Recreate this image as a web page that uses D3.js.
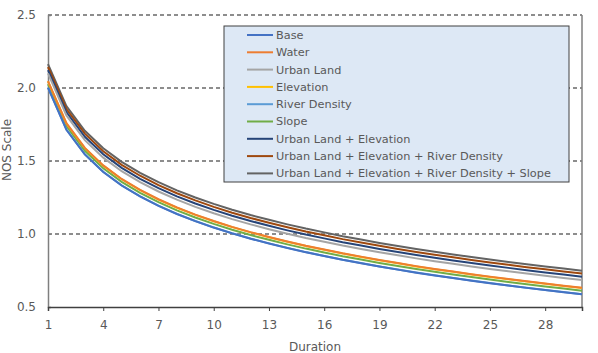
<html>
<script src='https://d3js.org/d3.v7.min.js'></script>
<body style="margin:0; background:#fff;">
<svg width=598 height=353></svg>
<script>

var durations = d3.range(1, 31);
var xTicks = [1, 4, 7, 10, 13, 16, 19, 22, 25, 28];
var yTicks = [0.5, 1.0, 1.5, 2.0, 2.5];

var seriesNames = ["Base", "Water", "Urban Land", "Elevation", "River Density", "Slope",
    "Urban Land + Elevation", "Urban Land + Elevation + River Density",
    "Urban Land + Elevation + River Density + Slope"];

var colors = ["#4472c4", "#ed7d31", "#a5a5a5", "#ffc000", "#5b9bd5", "#70ad47", "#264478", "#9e480e", "#636363"];

var base = [2.002,1.714,1.545,1.425,1.332,1.257,1.193,1.137,1.088,1.044,1.004,0.968,0.935,0.904,0.875,0.849,0.823,0.800,0.777,0.756,0.735,0.716,0.698,0.680,0.663,0.647,0.631,0.616,0.601,0.587];
var water = [2.047,1.759,1.590,1.470,1.377,1.302,1.238,1.182,1.133,1.089,1.049,1.013,0.980,0.949,0.920,0.894,0.868,0.845,0.822,0.801,0.780,0.761,0.743,0.725,0.708,0.692,0.676,0.661,0.646,0.632];
var urbanLand = [2.100,1.812,1.643,1.523,1.430,1.355,1.291,1.235,1.186,1.142,1.102,1.066,1.033,1.002,0.973,0.947,0.921,0.898,0.875,0.854,0.833,0.814,0.796,0.778,0.761,0.745,0.729,0.714,0.699,0.685];
var elevation = [2.045,1.757,1.588,1.468,1.375,1.300,1.236,1.180,1.131,1.087,1.047,1.011,0.978,0.947,0.918,0.892,0.866,0.843,0.820,0.799,0.778,0.759,0.741,0.723,0.706,0.690,0.674,0.659,0.644,0.630];
var riverDensity = [2.003,1.715,1.546,1.426,1.333,1.258,1.194,1.138,1.089,1.045,1.005,0.969,0.936,0.905,0.876,0.850,0.824,0.801,0.778,0.757,0.736,0.717,0.699,0.681,0.664,0.648,0.632,0.617,0.602,0.588];
var slope = [2.027,1.739,1.570,1.450,1.357,1.282,1.218,1.162,1.113,1.069,1.029,0.993,0.960,0.929,0.900,0.874,0.848,0.825,0.802,0.781,0.760,0.741,0.723,0.705,0.688,0.672,0.656,0.641,0.626,0.612];
var ulE = [2.123,1.835,1.666,1.546,1.453,1.378,1.314,1.258,1.209,1.165,1.125,1.089,1.056,1.025,0.996,0.970,0.944,0.921,0.898,0.877,0.856,0.837,0.819,0.801,0.784,0.768,0.752,0.737,0.722,0.708];
var ulERd = [2.144,1.856,1.687,1.567,1.474,1.399,1.335,1.279,1.230,1.186,1.146,1.110,1.077,1.046,1.017,0.991,0.965,0.942,0.919,0.898,0.877,0.858,0.840,0.822,0.805,0.789,0.773,0.758,0.743,0.729];
var ulERdS = [2.164,1.876,1.707,1.587,1.494,1.419,1.355,1.299,1.250,1.206,1.166,1.130,1.097,1.066,1.037,1.011,0.985,0.962,0.939,0.918,0.897,0.878,0.860,0.842,0.825,0.809,0.793,0.778,0.763,0.749];

var allValues = [base, water, urbanLand, elevation, riverDensity, slope, ulE, ulERd, ulERdS];

var font = "'DejaVu Sans', sans-serif";
var textColor = "#595959";

var x = d3.scaleLinear().domain([1, 30]).range([48, 582]);
var y = d3.scaleLinear().domain([0.5, 2.5]).range([307, 15]);

var svg = d3.select('svg');

// dashed gridlines
svg.append("g").selectAll("line")
    .data(yTicks.slice(1))
    .join("line")
    .attr("x1", x(1)).attr("x2", x(30))
    .attr("y1", d => y(d)).attr("y2", d => y(d))
    .attr("stroke", "#686868")
    .attr("stroke-width", 1.3)
    .attr("stroke-dasharray", "4,3");

// y axis
var yAxis = svg.append("g").attr("transform", "translate(" + x(1) + ",0)")
    .call(d3.axisLeft(y).tickValues(yTicks).tickFormat(d3.format(".1f")).tickSize(-3).tickPadding(12));
yAxis.select(".domain").attr("stroke", "#7f7f7f").attr("stroke-width", 1.5);
yAxis.selectAll(".tick line").attr("stroke", "#7f7f7f");
yAxis.selectAll("text").attr("fill", textColor).style("font-family", font).style("font-size", "12px");

// right border
svg.append("line")
    .attr("x1", x(30)).attr("x2", x(30))
    .attr("y1", y(2.5)).attr("y2", y(0.5))
    .attr("stroke", "#7f7f7f").attr("stroke-width", 1.5);

// series lines, drawn last-first so Base ends on top
var line = d3.line().x((d, i) => x(durations[i])).y(d => y(d));
svg.append("g").selectAll("path")
    .data(allValues.map((v, i) => ({v: v, i: i})).reverse())
    .join("path")
    .attr("d", d => line(d.v))
    .attr("fill", "none")
    .attr("stroke", d => colors[d.i])
    .attr("stroke-width", 2);

// x axis
var xAxis = svg.append("g").attr("transform", "translate(0," + y(0.5) + ")")
    .call(d3.axisBottom(x).tickValues(xTicks).tickSize(4).tickPadding(9));
xAxis.select(".domain").attr("stroke", "#404040").attr("stroke-width", 1.5);
xAxis.selectAll(".tick line").attr("stroke", "#404040");
xAxis.selectAll("text").attr("fill", textColor).style("font-family", font).style("font-size", "12px");

// axis titles
svg.append("text")
    .attr("x", 315).attr("y", 351)
    .attr("text-anchor", "middle")
    .attr("fill", textColor)
    .style("font-family", font).style("font-size", "12px")
    .text("Duration");

svg.append("text")
    .attr("transform", "translate(11,150) rotate(-90)")
    .attr("text-anchor", "middle")
    .attr("fill", textColor)
    .style("font-family", font).style("font-size", "12px")
    .text("NOS Scale");

// legend
var legend = svg.append("g");
legend.append("rect")
    .attr("x", 224).attr("y", 26)
    .attr("width", 345).attr("height", 156)
    .attr("fill", "#dde8f5")
    .attr("stroke", "#404040");

var rows = legend.selectAll("g.row")
    .data(seriesNames)
    .join("g")
    .attr("class", "row")
    .attr("transform", (d, i) => "translate(0," + (35 + i * 17.3) + ")");

rows.append("line")
    .attr("x1", 247).attr("x2", 273)
    .attr("stroke", (d, i) => colors[i])
    .attr("stroke-width", 2);

rows.append("text")
    .attr("x", 276).attr("dy", "0.35em")
    .attr("fill", textColor)
    .style("font-family", font).style("font-size", "11.3px")
    .text(d => d);

</script>
</body>
</html>
